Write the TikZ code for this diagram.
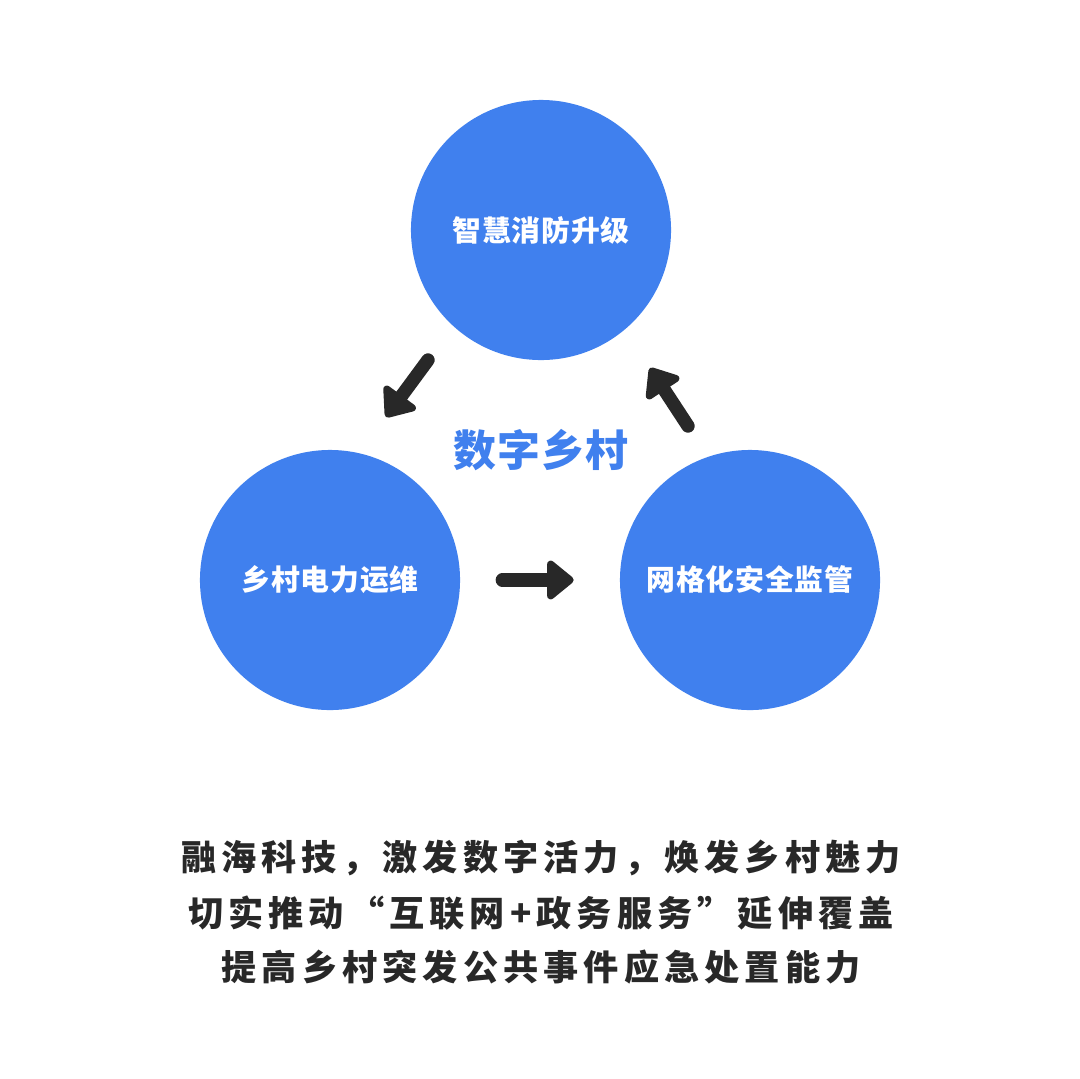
\documentclass[tikz,border=0pt]{standalone}
\usepackage{fontspec}
\usetikzlibrary{arrows.meta}
\newfontfamily\cjk{Noto Sans CJK SC}[BoldFont={Noto Sans CJK SC Black}]
\newfontfamily\cjkwide{Noto Sans CJK SC}[BoldFont={Noto Sans CJK SC Black}, BoldFeatures={LetterSpace=14.5}]
\newfontfamily\cjkmid{Noto Sans CJK SC}[BoldFont={Noto Sans CJK SC Black}, BoldFeatures={LetterSpace=3}]
\definecolor{villageblue}{RGB}{64,128,238}
\definecolor{arrowgray}{RGB}{40,40,40}

\begin{document}
\begin{tikzpicture}[x=0.025cm, y=-0.025cm,
    bubble/.style={circle, fill=villageblue, minimum size=6.5cm, inner sep=0pt,
                   text=white, font=\cjkmid\bfseries\fontsize{20.5pt}{24pt}\selectfont},
    flow/.style={draw=arrowgray, line width=9.5pt, line cap=round,
                 -{Triangle[length=0.72cm, width=1.12cm, round]}},
    caption/.style={text=arrowgray, font=\cjkwide\bfseries\fontsize{25pt}{28pt}\selectfont}]

\fill[white] (0,0) rectangle (1080,1079);
\useasboundingbox (0,0) rectangle (1080,1079);

% three circles
\node[bubble] (fire)  at (541,230) {智慧消防升级};
\node[bubble] (power) at (330,580) {乡村电力运维};
\node[bubble] (grid)  at (750,580) {网格化安全监管};

\node[text=villageblue, font=\cjkmid\bfseries\fontsize{30.5pt}{33pt}\selectfont] (hub) at (541,450) {数字乡村};

% arrows between the circles
\coordinate (downS) at (428,360);
\coordinate (downE) at (386,417);
\coordinate (upS)   at (688,426);
\coordinate (upE)   at (650,368);

\draw[flow] (downS) -- (downE);
\draw[flow] (power) -- (grid) [shorten <=1.05cm, shorten >=1.15cm];
\draw[flow] (upS) -- (upE);

% caption
\node[caption] (line1) at (541,858) {融海科技，激发数字活力，焕发乡村魅力};
\node[caption] (line2) at (541,913) {切实推动“互联网+政务服务”延伸覆盖};
\node[caption] (line3) at (541,967) {提高乡村突发公共事件应急处置能力};

\end{tikzpicture}
\end{document}
